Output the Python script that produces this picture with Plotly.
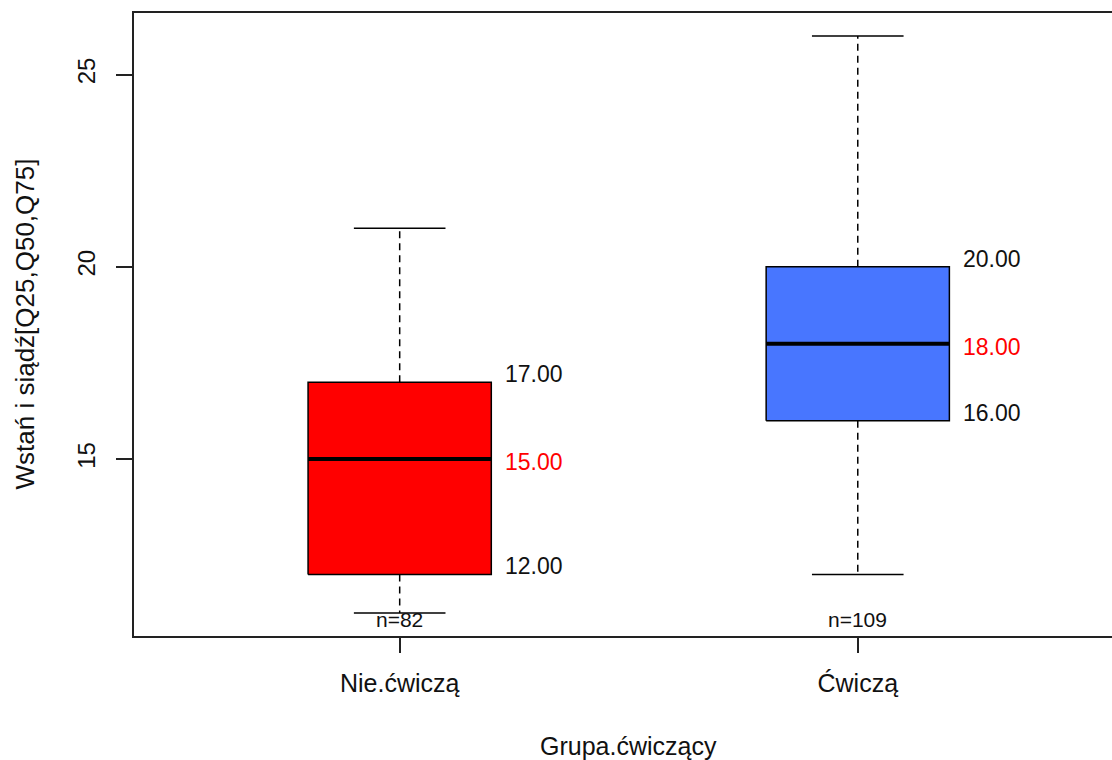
import plotly.graph_objects as go

# Summary statistics per group (five-number summary + counts)
groups = ["Nie.ćwiczą", "Ćwiczą"]
q25 = [12, 16]
q50 = [15, 18]
q75 = [17, 20]
whisker_low = [11, 12]
whisker_high = [21, 26]
counts = [82, 109]
box_colors = ["#FF0000", "#4876FF"]

y_ticks = [15, 20, 25]

FONT = "Liberation Sans, Arial, sans-serif"
half_box = 0.2
half_cap = 0.1

fig = go.Figure()

for i, g in enumerate(groups):
    pos = i + 1
    # whiskers (dashed) from box edges to extremes
    for a, b in ((q75[i], whisker_high[i]), (q25[i], whisker_low[i])):
        fig.add_trace(go.Scatter(
            x=[pos, pos], y=[a, b], mode="lines",
            line=dict(color="black", width=1.5, dash="7px,5px"),
            hoverinfo="skip", showlegend=False))
    # whisker caps
    for v in (whisker_high[i], whisker_low[i]):
        fig.add_trace(go.Scatter(
            x=[pos - half_cap, pos + half_cap], y=[v, v], mode="lines",
            line=dict(color="black", width=1.5),
            hoverinfo="skip", showlegend=False))
    # box
    fig.add_trace(go.Scatter(
        x=[pos - half_box, pos + half_box, pos + half_box, pos - half_box, pos - half_box],
        y=[q25[i], q25[i], q75[i], q75[i], q25[i]],
        mode="lines", fill="toself", fillcolor=box_colors[i],
        line=dict(color="black", width=1.5),
        hoverinfo="skip", showlegend=False))
    # median
    fig.add_trace(go.Scatter(
        x=[pos - half_box, pos + half_box], y=[q50[i], q50[i]], mode="lines",
        line=dict(color="black", width=4),
        hoverinfo="skip", showlegend=False))

annotations = []
for i, g in enumerate(groups):
    pos = i + 1
    for v, color, shift in ((q75[i], "#111111", 8), (q50[i], "#FF0000", -3), (q25[i], "#111111", 8)):
        annotations.append(dict(
            x=pos + half_box, y=v, xref="x", yref="y",
            text=f"{v:.2f}", showarrow=False,
            xanchor="left", yanchor="middle", xshift=12, yshift=shift,
            font=dict(family=FONT, size=23, color=color)))
    annotations.append(dict(
        x=pos, y=10.4, xref="x", yref="y",
        text=f"n={counts[i]}", showarrow=False,
        xanchor="center", yanchor="bottom", yshift=3,
        font=dict(family=FONT, size=21, color="#111111")))

# axis titles
annotations.append(dict(
    x=1.5, y=0, xref="x", yref="paper", text="Grupa.ćwiczący",
    showarrow=False, xanchor="center", yanchor="middle", yshift=-110,
    font=dict(family=FONT, size=25, color="#111111")))
annotations.append(dict(
    x=0, y=0.5, xref="paper", yref="paper", text="Wstań i siądź[Q25,Q50,Q75]",
    showarrow=False, xanchor="center", yanchor="middle", xshift=-110,
    textangle=-90, font=dict(family=FONT, size=26, color="#111111")))

fig.update_layout(
    width=1112, height=760,
    margin=dict(l=134, r=0, t=13, b=124),
    paper_bgcolor="white", plot_bgcolor="white",
    annotations=annotations,
    xaxis=dict(
        range=[0.42, 2.555], tickvals=[1, 2], ticktext=groups,
        showgrid=False, zeroline=False,
        showline=True, mirror=True, linecolor="#222222", linewidth=1.6,
        ticks="outside", ticklen=15, tickwidth=1.5, tickcolor="#222222",
        ticklabelstandoff=9,
        tickfont=dict(family=FONT, size=25, color="#111111")),
    yaxis=dict(
        range=[10.4, 26.6], tickvals=y_ticks,
        showgrid=False, zeroline=False,
        showline=True, linecolor="#222222", linewidth=1.6,
        ticks="outside", ticklen=16, tickwidth=1.5, tickcolor="#222222",
        tickangle=-90, ticklabelstandoff=12,
        tickfont=dict(family=FONT, size=24, color="#111111")),
)

fig.write_html("out.html")
